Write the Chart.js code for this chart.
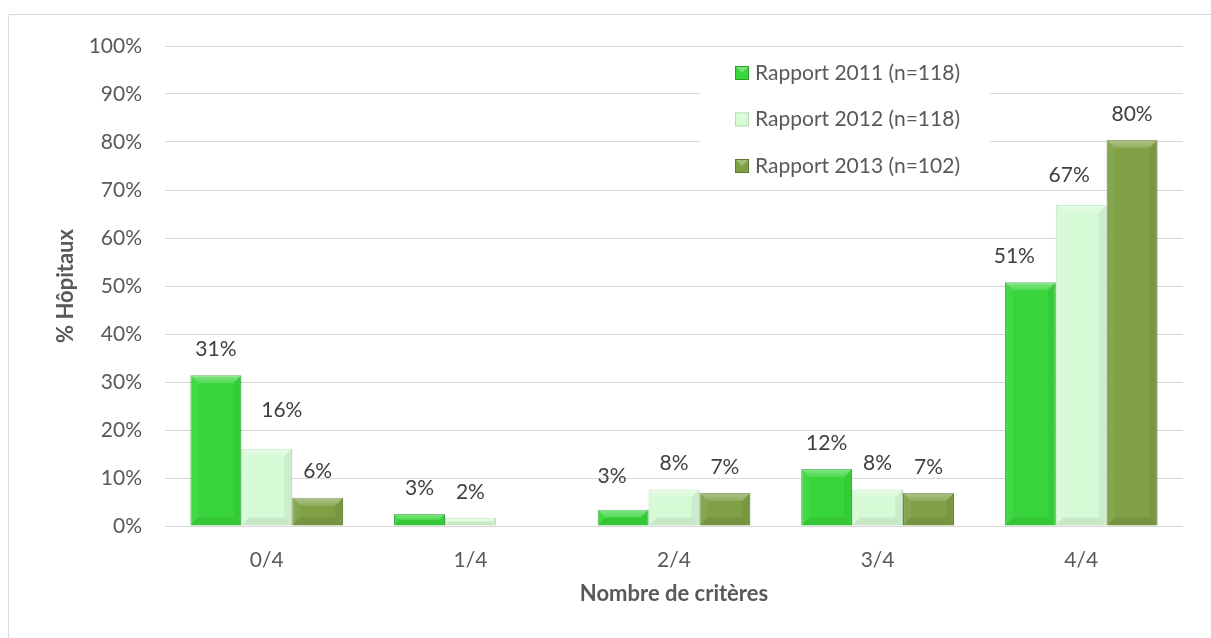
<!DOCTYPE html>
<html lang="fr">
<head>
<meta charset="utf-8">
<title>Nombre de critères</title>
<script src="https://cdn.jsdelivr.net/npm/chart.js@4.4.1/dist/chart.umd.min.js"></script>
<style>
  html, body { margin: 0; padding: 0; background: #fff; }
  #wrap { position: relative; width: 1211px; height: 638px; }
</style>
</head>
<body>
<div id="wrap"><canvas id="graphCriteres" width="1211" height="638"></canvas></div>
<script>
// données : % d'hôpitaux par nombre de critères remplis
var criteres = ["0/4", "1/4", "2/4", "3/4", "4/4"];
var rapport2011 = [31.4, 2.5, 3.4, 11.9, 50.8];
var rapport2012 = [16.1, 1.7, 7.6, 7.6, 66.9];
var rapport2013 = [5.9, 0, 6.9, 6.9, 80.4];
var legendes = ["Rapport 2011 (n=118)", "Rapport 2012 (n=118)", "Rapport 2013 (n=102)"];
var graduations = [0, 10, 20, 30, 40, 50, 60, 70, 80, 90, 100];

var police = "Lato, 'Open Sans', sans-serif";
var gris = "#595959";

var couleurs = [
  { fond: "#38d63c", bord: "#27a12a" },
  { fond: "#d6fad6", bord: "#b3deb3" },
  { fond: "#7fa045", bord: "#5b7630" }
];

// cadre gris (haut et gauche)
var cadre = {
  id: "cadre",
  beforeDraw: (chart) => {
    var ctx = chart.ctx;
    ctx.save();
    ctx.strokeStyle = "#d9d9d9";
    ctx.lineWidth = 1;
    ctx.beginPath();
    ctx.moveTo(8.5, chart.height);
    ctx.lineTo(8.5, 14.5);
    ctx.lineTo(chart.width, 14.5);
    ctx.stroke();
    ctx.restore();
  }
};

// effet biseau sur les barres
var biseau = {
  id: "biseau",
  afterDatasetsDraw: (chart) => {
    var ctx = chart.ctx;
    chart.data.datasets.forEach((ds, i) => {
      chart.getDatasetMeta(i).data.forEach((bar) => {
        var p = bar.getProps(["x", "y", "base", "width"], true);
        var h = p.base - p.y;
        if (h <= 0.5) return;
        var l = p.x - p.width / 2, r = p.x + p.width / 2, t = p.y, b = p.base;
        var e = Math.min(8, h / 2, p.width / 2);
        var facette = (couleur, pts) => {
          ctx.fillStyle = couleur;
          ctx.beginPath();
          ctx.moveTo(pts[0][0], pts[0][1]);
          pts.slice(1).forEach((q) => ctx.lineTo(q[0], q[1]));
          ctx.closePath();
          ctx.fill();
        };
        ctx.save();
        var g = ctx.createLinearGradient(0, t, 0, t + e);
        g.addColorStop(0, "rgba(255,255,255,0.38)");
        g.addColorStop(1, "rgba(255,255,255,0.12)");
        facette(g, [[l, t], [r, t], [r - e, t + e], [l + e, t + e]]);
        facette("rgba(255,255,255,0.06)", [[l, t], [l + e, t + e], [l + e, b - e], [l, b]]);
        facette("rgba(0,0,0,0.05)", [[r, t], [r, b], [r - e, b - e], [r - e, t + e]]);
        facette("rgba(0,0,0,0.07)", [[l, b], [r, b], [r - e, b - e], [l + e, b - e]]);
        ctx.restore();
      });
    });
  }
};

// étiquettes de valeur au-dessus des barres
var etiquettes = {
  id: "etiquettes",
  afterDatasetsDraw: (chart, args, opts) => {
    var ctx = chart.ctx;
    ctx.save();
    ctx.font = "21px " + police;
    ctx.fillStyle = "#404040";
    ctx.textAlign = "center";
    ctx.textBaseline = "middle";
    chart.data.datasets.forEach((ds, i) => {
      chart.getDatasetMeta(i).data.forEach((bar, j) => {
        var v = ds.data[j];
        if (!v) return;
        var d = opts.decalages[i + ":" + j] || [0, 0];
        ctx.fillText(Math.round(v) + "%", bar.x + d[0], bar.y - 26 + d[1]);
      });
    });
    ctx.restore();
  }
};

// légende dans la zone du graphique
var legendeInterne = {
  id: "legendeInterne",
  afterDraw: (chart) => {
    var ctx = chart.ctx;
    ctx.save();
    ctx.fillStyle = "#ffffff";
    ctx.fillRect(700, 51, 290, 134);
    ctx.font = "21px " + police;
    ctx.textBaseline = "middle";
    legendes.forEach((txt, i) => {
      var y = 73 + i * 46.5;
      var c = couleurs[i];
      ctx.fillStyle = c.fond;
      ctx.fillRect(735, y - 7, 14, 14);
      ctx.fillStyle = "rgba(255,255,255,0.3)";
      ctx.beginPath();
      ctx.moveTo(735, y - 7); ctx.lineTo(749, y - 7); ctx.lineTo(742, y); ctx.closePath();
      ctx.fill();
      ctx.strokeStyle = c.bord;
      ctx.lineWidth = 1;
      ctx.strokeRect(735.5, y - 6.5, 13, 13);
      ctx.fillStyle = gris;
      ctx.fillText(txt, 755, y);
    });
    ctx.restore();
  }
};

var jeux = [rapport2011, rapport2012, rapport2013].map((serie, i) => ({
  label: legendes[i],
  data: serie,
  backgroundColor: couleurs[i].fond,
  borderColor: couleurs[i].bord,
  borderWidth: 1,
  categoryPercentage: 0.75,
  barPercentage: 1.0
}));

var graphCriteres = new Chart(document.getElementById("graphCriteres").getContext("2d"), {
  type: "bar",
  data: { labels: criteres, datasets: jeux },
  plugins: [cadre, biseau, etiquettes, legendeInterne],
  options: {
    responsive: false,
    animation: false,
    layout: { padding: { top: 46, right: 28, left: 0, bottom: 0 } },
    scales: {
      x: {
        grid: { display: false },
        border: { display: false },
        ticks: { color: gris, font: { family: police, size: 21 }, padding: 14 },
        title: {
          display: true,
          text: "Nombre de critères",
          color: gris,
          font: { family: police, size: 22, weight: "bold" },
          padding: { top: 0, bottom: 31 }
        },
        afterFit: (s) => { s.height = 112; }
      },
      y: {
        min: 0,
        max: 100,
        afterBuildTicks: (s) => { s.ticks = graduations.map((v) => ({ value: v })); },
        grid: { color: "#d9d9d9", lineWidth: 1, drawTicks: false },
        border: { display: false },
        ticks: {
          color: gris,
          font: { family: police, size: 21 },
          padding: 23,
          callback: (v) => v + "%"
        },
        title: {
          display: true,
          text: "% Hôpitaux",
          color: gris,
          font: { family: police, size: 22, weight: "bold" },
          padding: { top: 53, bottom: 0 }
        },
        afterFit: (s) => { s.width = 165; }
      }
    },
    plugins: {
      legend: { display: false },
      tooltip: { enabled: false },
      etiquettes: {
        decalages: { "1:0": [15, -12], "0:2": [-11, -7], "0:4": [-16, 0], "1:4": [-12, -4] }
      }
    }
  }
});
</script>
</body>
</html>
